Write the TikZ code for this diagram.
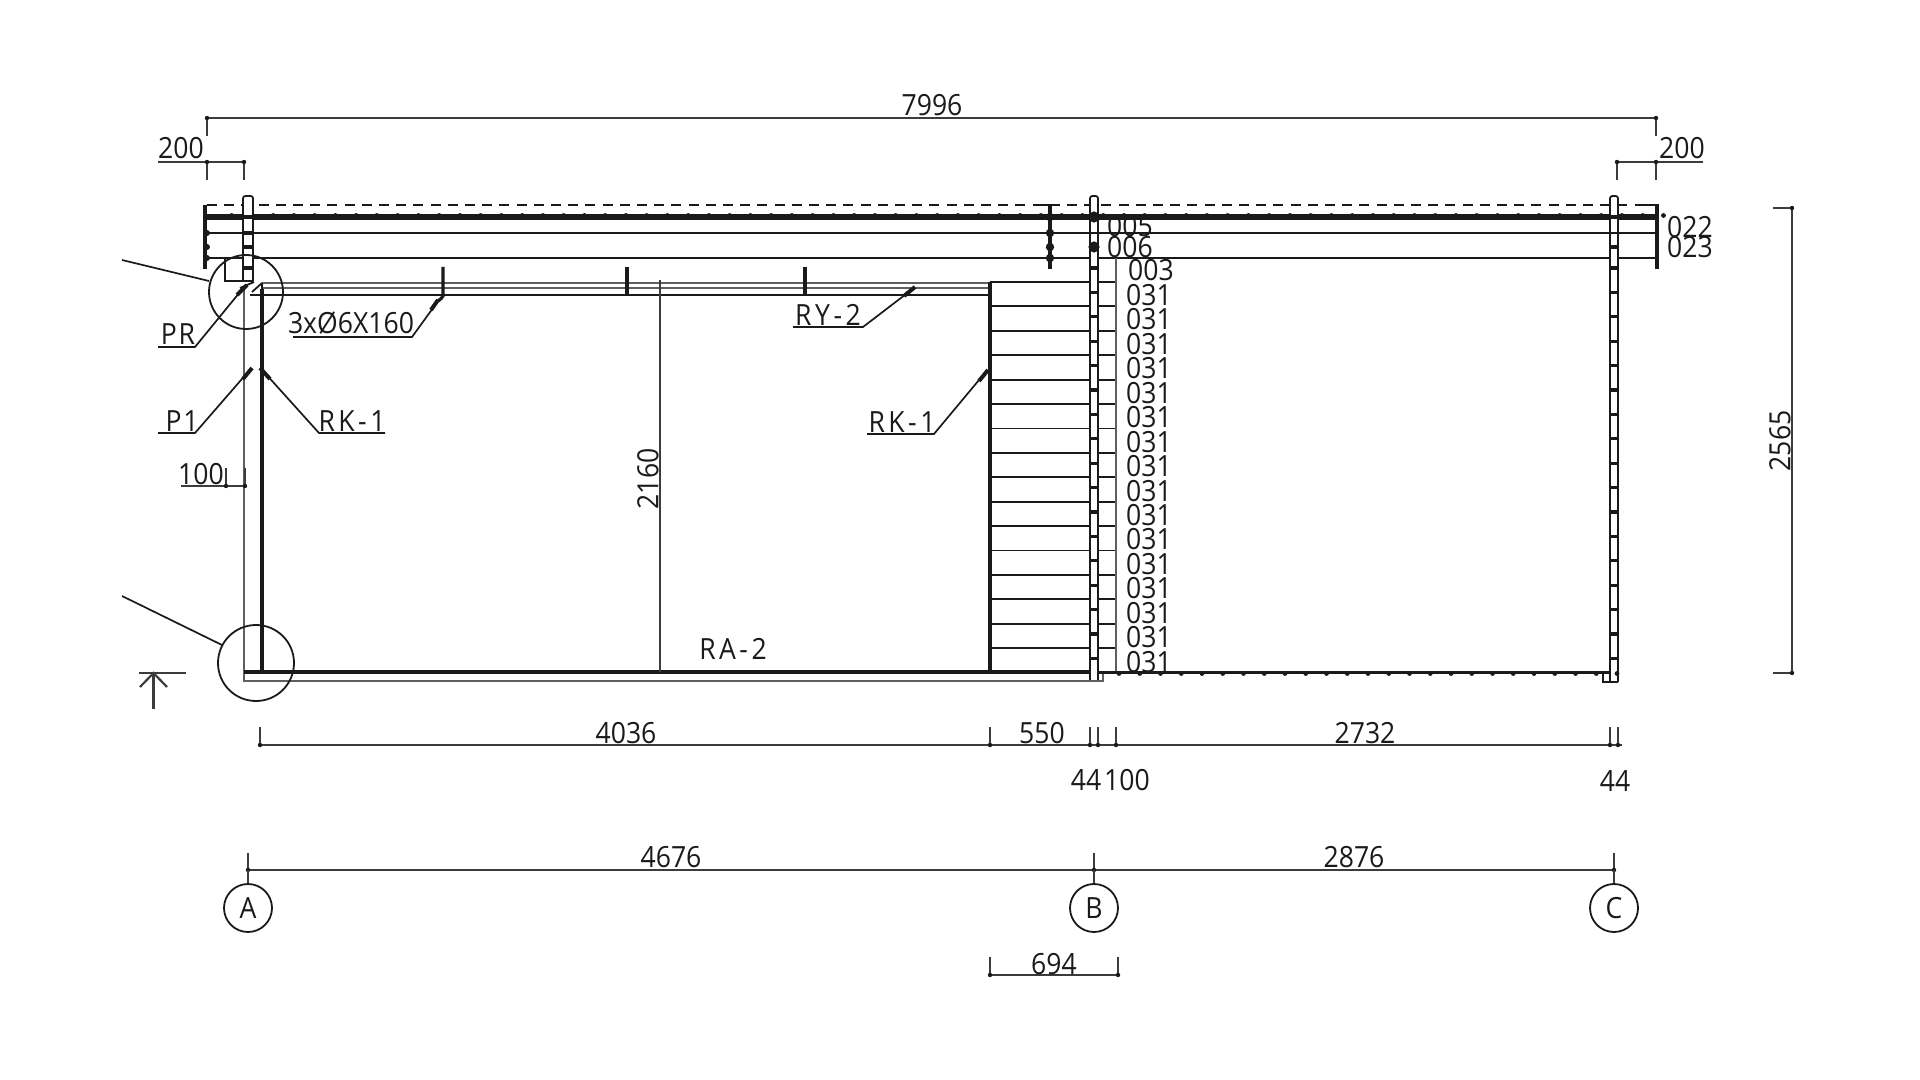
\documentclass[tikz,border=0pt]{standalone}
\usepackage{fontspec}
\setmainfont{Open Sans}[FakeStretch=0.91]
\definecolor{ink}{HTML}{1A1A1A}
\tikzset{
  ln/.style={draw=ink,line width=0.9pt},
  gl/.style={draw=ink!70,line width=1.15pt},
  hv/.style={draw=ink,line width=1.6pt},
  capbar/.style={draw=ink,line width=2.4pt},
  dm/.style={draw=ink!85,line width=0.95pt},
  tx/.style={font=\fontsize{14.6}{14.6}\selectfont,text=ink,inner sep=0pt},
  txa/.style={tx,font=\fontsize{14.6}{14.6}\selectfont\addfontfeature{LetterSpace=6}},
  txb/.style={tx,font=\fontsize{14.6}{14.6}\selectfont\addfontfeature{LetterSpace=12}},
  ldr/.style={draw=ink,line width=0.85pt},
  head/.style={draw=ink,line width=2pt},
}
\newcommand{\dimtick}[3]{\draw[dm] (#1,#2) -- (#1,#3); \fill[ink] (#1,#3) circle (1.1pt);}
\newcommand{\colB}[4]{\draw[ln,rounded corners=1.2pt] (#1,#4) -- (#1,#3) -- (#2,#3) -- (#2,#4);}
\begin{document}
\begin{tikzpicture}[x=0.5pt,y=-0.5pt]
\useasboundingbox (0,0) rectangle (1920,1080);
% ---------- roof layers
\draw[ln,dash pattern=on 5pt off 3.6pt] (207,205) -- (1650,205);
\draw[draw=ink,line width=2.6pt] (207,217) -- (1655,217);
\foreach \x in {0,...,69} \fill[ink] ({231.7+20.75*\x},215.5) circle (1.2pt);
\draw[ln] (207,233) -- (1655,233);
\draw[ln] (207,258) -- (1655,258);
% fascia caps
\draw[capbar] (205,205) -- (205,269);
\foreach \y in {217,233,247,258} \fill[ink] (207,\y) circle (1.5pt);
\draw[capbar] (1050,205) -- (1050,269);
\draw[ln,line width=1.2pt] (1040,205) -- (1056,205);
\foreach \y in {217,233,247,258} \fill[ink] (1050,\y) circle (2.1pt);
\draw[capbar] (1657,205) -- (1657,269);
\draw[ln,line width=1.2pt] (1645,205) -- (1659,205);
% eave box
\draw[ln] (225,258) -- (225,281) -- (244,281);
% ---------- columns (over the roof lines)
\foreach \xa/\xb/\yb in {243/253/281,1090/1098/681,1610/1618/682}{
  \fill[white,rounded corners=1.2pt] (\xa,196) rectangle (\xb,\yb);
  \colB{\xa}{\xb}{196}{\yb}
  \draw[ln,line width=1pt] (\xa,\yb) -- (\xb,\yb);
}
\foreach \y in {217,233,247,268} \draw[hv] (243,\y) -- (253,\y);
\foreach \xa/\xb in {1090/1098,1610/1618}{
  \draw[draw=ink,line width=2.4pt] (\xa,217) -- (\xb,217);
  \draw[ln] (\xa,233) -- (\xb,233);
  \draw[draw=ink,line width=2pt] (\xa,247) -- (\xb,247);
  \foreach \n in {0,...,16} \draw[hv] (\xa,{268+24.4*\n}) -- (\xb,{268+24.4*\n});
}
\fill[ink] (1094,217) circle (2.8pt);
\fill[ink] (1094,247) circle (2.8pt);
% ---------- left room walls
\draw[gl] (244,290) -- (244,681) -- (1103,681) -- (1103,672);
\draw[draw=ink,line width=2.1pt] (262,289) -- (262,672);
\draw[draw=ink,line width=1.9pt] (244,672) -- (1090,672);
\draw[gl] (262,283) -- (990,283);
\draw[gl] (262,288) -- (990,288);
\draw[ln] (250,295) -- (990,295);
\draw[ln] (240,288) -- (254,282) (252,292) -- (262,283) (262,283) -- (262,294);
\draw[draw=ink,line width=1.6pt] (990,282) -- (990,672);
% rafters and right lining
\foreach \n in {0,...,15}{
  \draw[ln] (990,{282+24.4*\n}) -- (1090,{282+24.4*\n});
  \draw[ln] (1098,{282+24.4*\n}) -- (1116,{282+24.4*\n});
}
\draw[gl] (1116,258) -- (1116,672);
% right room floor
\draw[draw=ink,line width=1.5pt] (1098,672) -- (1610,672);
\foreach \x in {0,...,24} \fill[ink] ({1119+20.75*\x},673.5) circle (1.2pt);
\draw[ln] (1603,672) -- (1603,682) -- (1618,682);
% ---------- studs
\draw[hv] (443,267) -- (443,296) to[out=270,in=60] (438,301);
\draw[hv] (627,267) -- (627,295);
\draw[hv] (805,267) -- (805,295);
% middle dimension
\draw[dm] (660,280) -- (660,672);
% ---------- circles and leaders
\draw[ln] (246,292) circle[radius=37];
\draw[ln] (256,663) circle[radius=38];
\draw[ldr] (122,260) -- (209,281);
\draw[ldr] (122,596) -- (222,645);
% section mark
\draw[dm,line width=1.1pt] (139,673) -- (186,673);
\draw[dm,line width=1.1pt] (153.5,673) -- (153.5,709);
\draw[dm,line width=1.1pt] (140,687) -- (153.5,673) -- (167,687);
% ---------- arrows on labelled leaders
\draw[ldr] (158,347) -- (195,347) -- (240,292);
\draw[head] (247,285) -- (237,295);
\draw[ldr] (293,337) -- (412,337) -- (433,308);
\draw[head] (438,300) -- (431,310);
\draw[ldr] (158,433) -- (195,433) -- (248,372);
\draw[head] (252,368) -- (243,379);
\draw[ldr] (385,433) -- (319,433) -- (264,372);
\draw[head] (260,368) -- (270,379);
\draw[ldr] (867,434) -- (934,434) -- (984,374);
\draw[head] (988,370) -- (979,381);
\draw[ldr] (793,327) -- (863,327) -- (910,291);
\draw[head] (915,287) -- (904,296);
% 100 dim
\draw[dm] (181,486) -- (245,486);
\dimtick{226}{468}{486}
\dimtick{245}{468}{486}
% ---------- dimensions
\draw[dm] (207,118) -- (1656,118);
\dimtick{207}{136}{118}
\dimtick{1656}{136}{118}
\draw[dm] (158,162) -- (244,162);
\dimtick{207}{180}{162}
\dimtick{244}{180}{162}
\draw[dm] (1617,162) -- (1703,162);
\dimtick{1617}{180}{162}
\dimtick{1656}{180}{162}
\draw[dm] (1792,208) -- (1792,673);
\draw[dm] (1773,208) -- (1794,208);
\draw[dm] (1773,673) -- (1794,673);
\fill[ink] (1792,208) circle (1.1pt);
\fill[ink] (1792,673) circle (1.1pt);
\draw[dm] (260,745) -- (1622,745);
\foreach \x in {260,990,1090,1098,1116,1610,1618} {\dimtick{\x}{727}{745}}
\draw[dm] (248,870) -- (1614,870);
\foreach \x in {248,1094,1614} {\dimtick{\x}{853}{870} \draw[dm] (\x,870) -- (\x,884);}
\draw[dm] (990,975) -- (1118,975);
\dimtick{990}{957}{975}
\dimtick{1118}{957}{975}
% grid circles
\node[ln,circle,minimum size=24pt,tx] (axa) at (248,908) {A};
\node[ln,circle,minimum size=24pt,tx] (axb) at (1094,908) {B};
\node[ln,circle,minimum size=24pt,tx] (axc) at (1614,908) {C};
% ---------- texts
\node[tx] (t1) at (932,105) {7996};
\node[tx] (t2) at (181,148) {200};
\node[tx] (t3) at (1682,148) {200};
\node[tx] (t4) at (1690,227) {022};
\node[tx] (t5) at (1690,247) {023};
\node[tx] (t6) at (1130,226) {005};
\node[tx] (t7) at (1130,247) {006};
\node[tx] (t8) at (1151,270) {003};
\foreach \n in {0,...,15} \node[tx] (c\n) at (1149,{295+24.45*\n}) {031};
\node[txa] (t9) at (178,334) {PR};
\node[tx] (t10) at (351,323) {3xØ6X160};
\node[txb] (t11) at (828,315) {RY-2};
\node[txa] (t12) at (182,421) {P1};
\node[txb] (t13) at (352,421) {RK-1};
\node[txb] (t14) at (902,422) {RK-1};
\node[tx] (t15) at (201,474) {100};
\node[tx,rotate=90] (t16) at (648,479) {2160};
\node[tx,rotate=90] (t17) at (1780,441) {2565};
\node[txb] (t18) at (733,649) {RA-2};
\node[tx] (t19) at (626,733) {4036};
\node[tx] (t20) at (1042,733) {550};
\node[tx] (t21) at (1365,733) {2732};
\node[tx] (t22) at (1086,780) {44};
\node[tx] (t23) at (1127,780) {100};
\node[tx] (t24) at (1615,781) {44};
\node[tx] (t25) at (671,857) {4676};
\node[tx] (t26) at (1354,857) {2876};
\node[tx] (t27) at (1054,964) {694};
\end{tikzpicture}
\end{document}
